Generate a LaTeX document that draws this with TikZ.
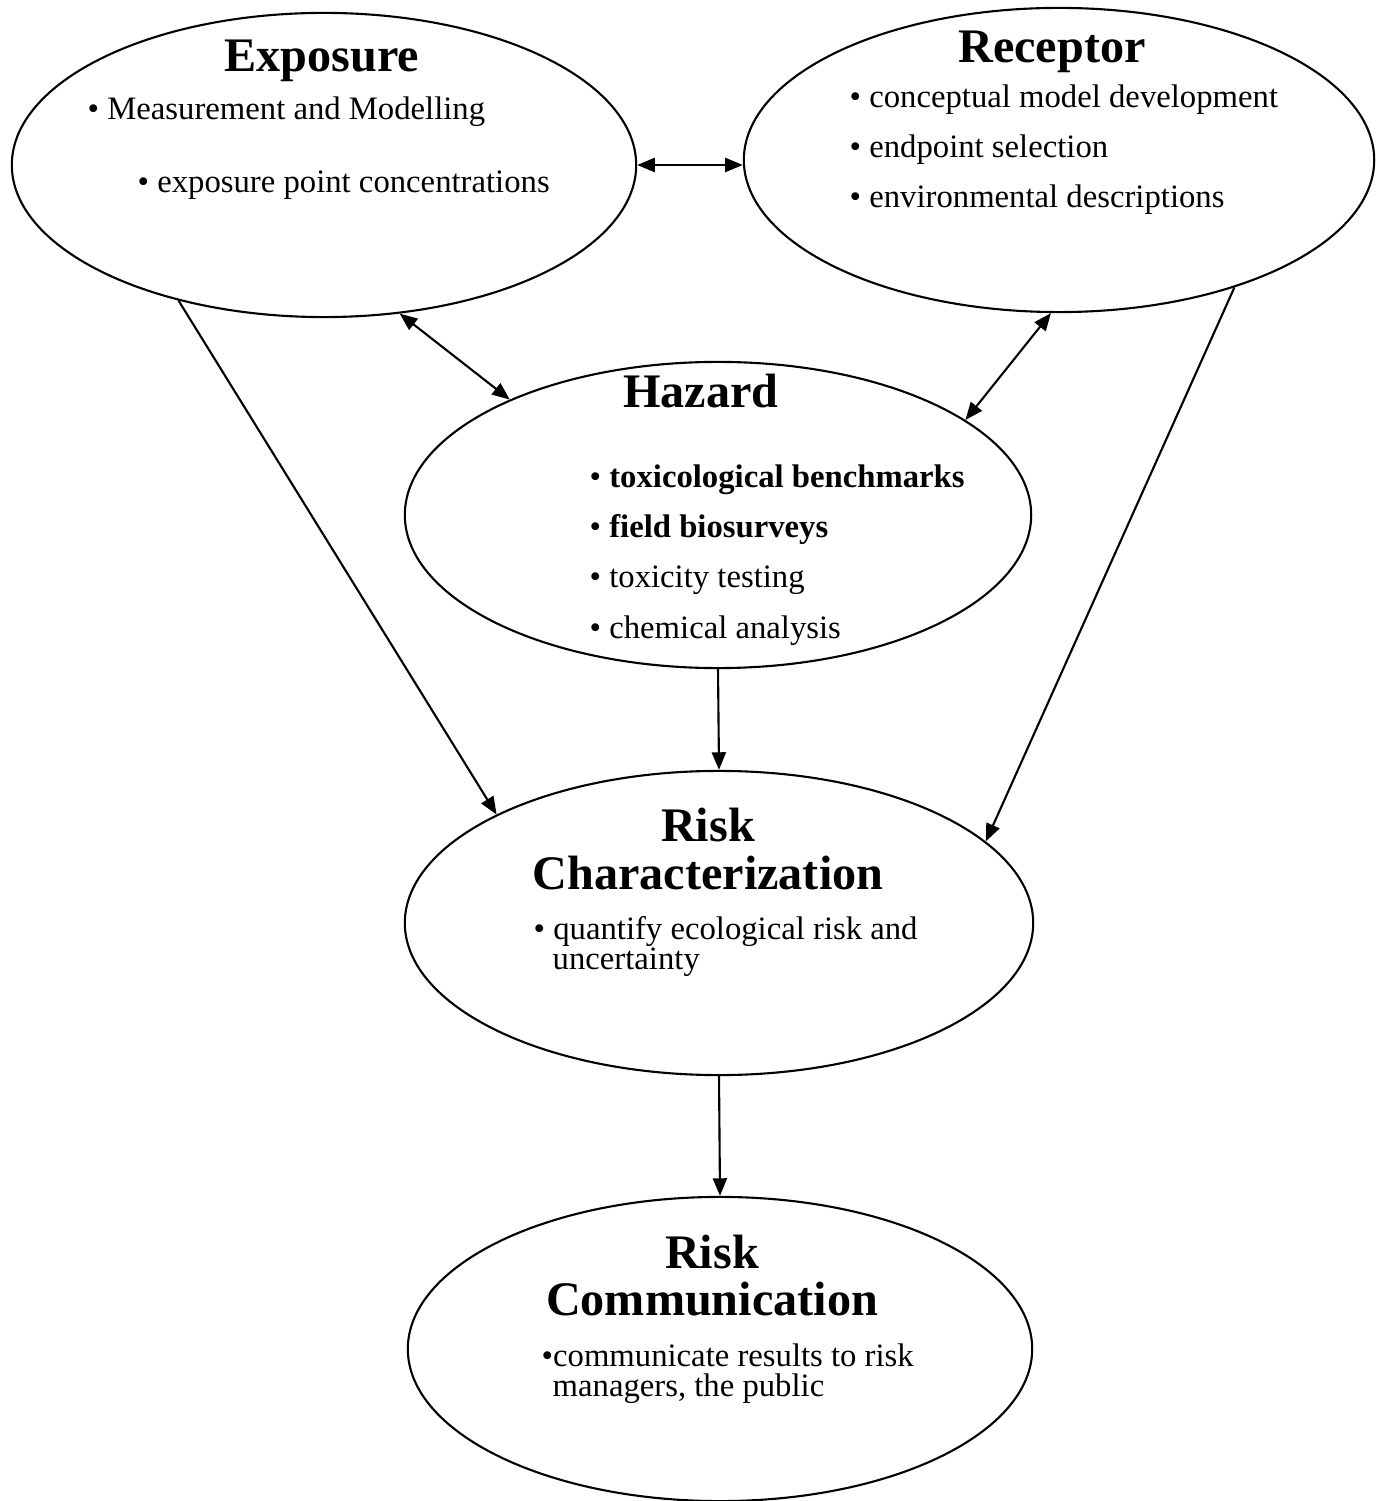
\documentclass[tikz,border=0pt]{standalone}
\usepackage{fontspec}
\setmainfont{Liberation Serif}
\usepackage{tikz}
\usetikzlibrary{positioning,shapes.geometric,arrows.meta}

\begin{document}
\begin{tikzpicture}[x=0.01cm,y=-0.01cm,
  blob/.style={draw, ellipse, line width=0.6pt, inner sep=0pt},
  ttl/.style={anchor=base, inner sep=0pt, font=\fontsize{13.7}{16}\selectfont\bfseries},
  itm/.style={anchor=base west, inner sep=0pt, font=\fontsize{9.3}{11}\selectfont},
  link/.style={line width=0.6pt},
  >={Triangle[length=5pt,width=4pt]}]
\useasboundingbox (0,0) rectangle (1385,1501);

% the five stages
\node[blob, minimum width=6.24cm, minimum height=3.04cm](exp) at (324,165) {};
\node[blob, minimum width=6.30cm, minimum height=3.04cm](rec) at (1059,160) {};
\node[blob, minimum width=6.26cm, minimum height=3.06cm](haz) at (718,515) {};
\node[blob, minimum width=6.28cm, minimum height=3.04cm](rc) at (719,923) {};
\node[blob, minimum width=6.24cm, minimum height=3.04cm](com) at (720,1349) {};

\node[ttl](exptitle) at (322,72) {Exposure};
\node[itm](exp1) at (87,120) {\textbullet\ Measurement and Modelling};
\node[itm](exp2) at (137,193) {\textbullet\ exposure point concentrations};

\node[ttl](rectitle) at (1052,63) {Receptor};
\node[itm](rec1) at (849,108) {\textbullet\ conceptual model development};
\node[itm](rec2) at (849,158) {\textbullet\ endpoint selection};
\node[itm](rec3) at (849,208) {\textbullet\ environmental descriptions};

\node[ttl](haztitle) at (701,408) {Hazard};
\node[itm](haz1) at (589,488) {\textbullet\ \textbf{toxicological benchmarks}};
\node[itm](haz2) at (589,538) {\textbullet\ \textbf{field biosurveys}};
\node[itm](haz3) at (589,588) {\textbullet\ toxicity testing};
\node[itm](haz4) at (589,638) {\textbullet\ chemical analysis};

\node[ttl](rctitle1) at (708,841) {Risk};
\node[ttl](rctitle2) at (708,889) {Characterization};
\node[itm](rc1) at (533,939) {\textbullet\ quantify ecological risk and};
\node[itm](rc2) at (552,969) {uncertainty};

\node[ttl](comtitle1) at (712,1268) {Risk};
\node[ttl](comtitle2) at (712,1315) {Communication};
\node[itm](com1) at (541,1366) {\textbullet communicate results to risk};
\node[itm](com2) at (552,1396) {managers, the public};

% connectors
\draw[link,<->] (exp.east) -- (rec.west |- exp.east);
\draw[link,<->] (exp.297.7) -- (haz.151.5);
\draw[link,<->] (rec.267.4) -- (haz.21.4);
\draw[link,->] (exp.223.8) -- (rc.154.6);
\draw[link,->] (rec.324.9) -- (rc.17.2);
\draw[link,->] (haz.south) -- (rc.north);
\draw[link,->] (rc.south) -- (com.north);

\end{tikzpicture}
\end{document}
